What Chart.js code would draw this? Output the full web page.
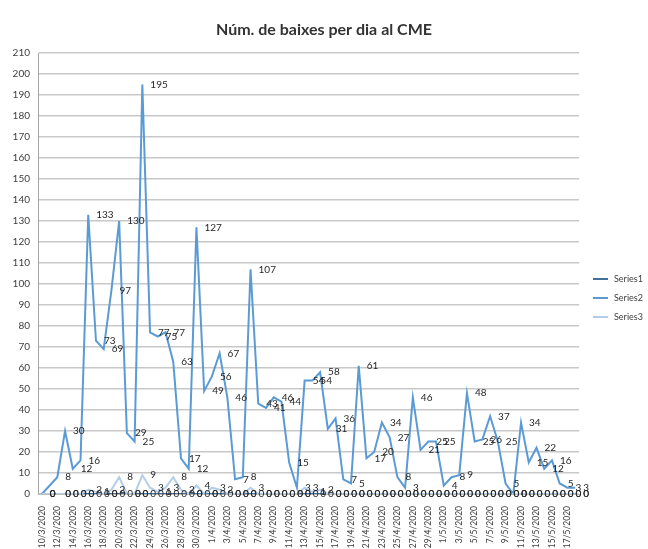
<!DOCTYPE html>
<html>
<head>
<meta charset="utf-8">
<script src="https://cdn.jsdelivr.net/npm/chart.js@4/dist/chart.umd.min.js"></script>
<style>
  html, body { margin: 0; padding: 0; background: #fff; }
  #wrap { width: 648px; height: 549px; }
</style>
</head>
<body>
<div id="wrap"><canvas id="baixesChart" width="648" height="549"></canvas></div>
<script>
// dates 10/3/2020 .. 18/5/2020 (11/3 has no data)
const dies = [
    '10/3/2020','11/3/2020','12/3/2020','13/3/2020','14/3/2020','15/3/2020','16/3/2020','17/3/2020',
    '18/3/2020','19/3/2020','20/3/2020','21/3/2020','22/3/2020','23/3/2020','24/3/2020','25/3/2020',
    '26/3/2020','27/3/2020','28/3/2020','29/3/2020','30/3/2020','31/3/2020','1/4/2020','2/4/2020',
    '3/4/2020','4/4/2020','5/4/2020','6/4/2020','7/4/2020','8/4/2020','9/4/2020','10/4/2020',
    '11/4/2020','12/4/2020','13/4/2020','14/4/2020','15/4/2020','16/4/2020','17/4/2020','18/4/2020',
    '19/4/2020','20/4/2020','21/4/2020','22/4/2020','23/4/2020','24/4/2020','25/4/2020','26/4/2020',
    '27/4/2020','28/4/2020','29/4/2020','30/4/2020','1/5/2020','2/5/2020','3/5/2020','4/5/2020',
    '5/5/2020','6/5/2020','7/5/2020','8/5/2020','9/5/2020','10/5/2020','11/5/2020','12/5/2020',
    '13/5/2020','14/5/2020','15/5/2020','16/5/2020','17/5/2020','18/5/2020'
];

const series1 = [
    0, null, 0, 0, 0, 0, 0, 0, 0, 0, 0, 0, 0, 0, 0, 0, 0, 0, 0, 0,
    0, 0, 0, 0, 0, 0, 0, 0, 0, 0, 0, 0, 0, 0, 0, 0, 0, 0, 0, 0,
    0, 0, 0, 0, 0, 0, 0, 0, 0, 0, 0, 0, 0, 0, 0, 0, 0, 0, 0, 0,
    0, 0, 0, 0, 0, 0, 0, 0, 0, 0
];

const series2 = [
    0, null, 8, 30, 12, 16, 133, 73, 69, 97, 130, 29, 25, 195, 77, 75, 77, 63, 17, 12,
    127, 49, 56, 67, 46, 7, 8, 107, 43, 41, 46, 44, 15, 3, 54, 54, 58, 31, 36, 7,
    5, 61, 17, 20, 34, 27, 8, 3, 46, 21, 25, 25, 4, 8, 9, 48, 25, 26, 37, 25,
    5, 0, 34, 15, 22, 12, 16, 5, 3, 3
];

const series3 = [
    0, null, 0, 0, 0, 0, 2, 1, 0, 2, 8, 0, 0, 9, 3, 1, 3, 8, 2, 0,
    4, 0, 3, 2, 0, 0, 0, 3, 0, 0, 0, 0, 0, 0, 3, 1, 2, 0, 0, 0,
    0, 0, 0, 0, 0, 0, 0, 0, 0, 0, 0, 0, 0, 0, 0, 0, 0, 0, 0, 0,
    0, 0, 0, 0, 0, 0, 0, 0, 0, 0
];

const titol = 'Núm. de baixes per dia al CME';
const font = 'Lato';

// value labels to the right of every point, like the spreadsheet ones
const pointLabels = {
    id: 'pointLabels',
    afterDatasetsDraw(chart) {
        let ctx = chart.ctx;
        ctx.save();
        ctx.font = '10px ' + font;
        ctx.fillStyle = '#262626';
        ctx.textBaseline = 'middle';
        ctx.textAlign = 'left';
        chart.data.datasets.forEach((ds, di) => {
            let meta = chart.getDatasetMeta(di);
            meta.data.forEach((pt, i) => {
                if (ds.data[i] === null) return;
                ctx.fillText(String(ds.data[i]), pt.x + 8, pt.y);
            });
        });
        ctx.restore();
    }
};

// title centred on the whole picture + legend at the right
const frame = {
    id: 'frame',
    afterDraw(chart) {
        let ctx = chart.ctx;
        let area = chart.chartArea;
        ctx.save();
        ctx.font = 'bold 16px ' + font;
        ctx.fillStyle = '#333333';
        ctx.textAlign = 'center';
        ctx.textBaseline = 'middle';
        ctx.fillText(titol, chart.width / 2, 30);

        let x = area.right + 14;
        let y = area.top + 226;
        ctx.font = '9px ' + font;
        ctx.textAlign = 'left';
        ctx.fillStyle = '#404040';
        chart.data.datasets.forEach((ds) => {
            ctx.strokeStyle = ds.borderColor;
            ctx.lineWidth = ds.borderWidth;
            ctx.beginPath();
            ctx.moveTo(x, y);
            ctx.lineTo(x + 15, y);
            ctx.stroke();
            ctx.fillText(ds.label, x + 21, y);
            y += 19;
        });
        ctx.restore();
    }
};

let ctx = document.getElementById('baixesChart').getContext('2d');

let chart = new Chart(ctx, {
    type: 'line',
    data: {
        labels: dies,
        datasets: [{
            label: 'Series1',
            data: series1,
            borderColor: '#41719c',
            borderWidth: 2,
            order: 2
        }, {
            label: 'Series2',
            data: series2,
            borderColor: '#5b9bd5',
            borderWidth: 2,
            order: 1
        }, {
            label: 'Series3',
            data: series3,
            borderColor: '#b4cde9',
            borderWidth: 2,
            order: 0
        }]
    },
    options: {
        responsive: false,
        animation: false,
        spanGaps: true,
        elements: {
            point: { radius: 0, hoverRadius: 0 },
            line: { tension: 0 }
        },
        layout: { padding: { left: 4, right: 69, top: 53, bottom: 0 } },
        plugins: {
            title: { display: false },
            legend: { display: false },
            tooltip: { enabled: false }
        },
        scales: {
            x: {
                offset: true,
                grid: { display: false },
                border: { display: true, color: '#bfbfbf' },
                afterFit: (s) => { s.height = 55; },
                ticks: {
                    autoSkip: false,
                    minRotation: 90,
                    maxRotation: 90,
                    padding: 4,
                    color: '#404040',
                    font: { family: font, size: 8.5 },
                    callback: function(v, i) {
                        return i % 2 === 0 ? this.getLabelForValue(v) : '';
                    }
                }
            },
            y: {
                min: 0,
                max: 210,
                grid: { color: '#c8c8c8', lineWidth: 1.5, drawTicks: false },
                border: { display: true, color: '#a6a6a6' },
                afterFit: (s) => { s.width = 34; },
                ticks: {
                    stepSize: 10,
                    padding: 8,
                    color: '#404040',
                    font: { family: font, size: 10 }
                }
            }
        }
    },
    plugins: [pointLabels, frame]
});
</script>
</body>
</html>
